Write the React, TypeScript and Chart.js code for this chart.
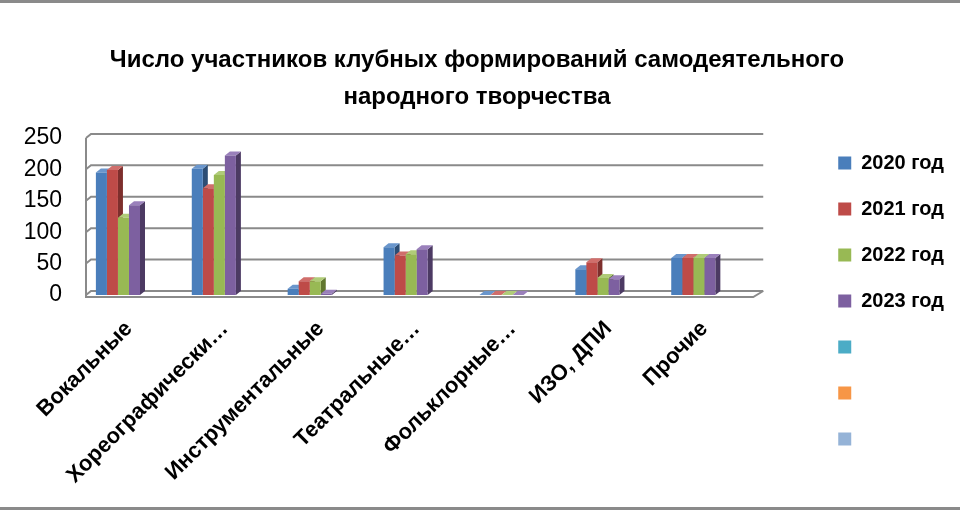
import { useEffect, useRef } from 'react'
import { Chart, registerables } from 'chart.js'

Chart.register(...registerables)

const categories = ['Вокальные', 'Хореографически…', 'Инструментальные', 'Театральные…', 'Фольклорные…', 'ИЗО, ДПИ', 'Прочие']
const years = ['2020 год', '2021 год', '2022 год', '2023 год']
const values2020 = [195, 201, 10, 76, 0, 41, 59]
const values2021 = [199, 170, 22, 63, 0, 52, 59]
const values2022 = [123, 191, 22, 65, 0, 27, 59]
const values2023 = [143, 222, 2, 73, 0, 25, 59]
const yMax = 250
const yStep = 50

const FONT = '"Liberation Sans", Arial, sans-serif'
const front = ['#4a7ebb', '#be4b48', '#98b954', '#7d60a0']
const side = ['#2c4d75', '#7d2f2d', '#61772f', '#4c3a63']
const top = ['#6a96cc', '#d06e6b', '#b0cc78', '#9a80bb']
// extra empty legend entries like the original
const emptyLegend = ['#4bacc6', '#f79646', '#95b3d7']

const DX = 5
const DY = 4
const WALL = 16 // back wall starts a bit right of the first category slot
const OVER = 22 // walls run past the last category slot
const GRID = '#8a8a8a'

// back-wall grid + 3D side/top faces, drawn before the bar fronts
const bar3d = {
  id: 'bar3d',
  beforeDatasetsDraw(chart: Chart) {
    const ctx = chart.ctx
    const { left, right, bottom } = chart.chartArea
    const ys = chart.scales.y
    const wl = left + WALL
    const wr = right + OVER
    ctx.save()
    ctx.strokeStyle = GRID
    ctx.lineWidth = 2
    ys.ticks.forEach((t: any) => {
      const py = ys.getPixelForValue(t.value)
      ctx.beginPath()
      ctx.moveTo(wl, py)
      ctx.lineTo(wl + DX, py - DY)
      ctx.lineTo(wr, py - DY)
      ctx.stroke()
    })
    ctx.beginPath()
    ctx.moveTo(wl, ys.getPixelForValue(yMax))
    ctx.lineTo(wl, bottom + 2)
    ctx.lineTo(wr - 10, bottom + 2)
    ctx.lineTo(wr, bottom - DY)
    ctx.stroke()
    ctx.restore()

    chart.data.datasets.forEach((_, di) => {
      const meta = chart.getDatasetMeta(di)
      meta.data.forEach((el: any) => {
        const { x, y, base, width } = el.getProps(['x', 'y', 'base', 'width'], true)
        const l = x - width / 2
        const r = x + width / 2
        ctx.save()
        ctx.fillStyle = side[di]
        ctx.beginPath()
        ctx.moveTo(r, y)
        ctx.lineTo(r + DX, y - DY)
        ctx.lineTo(r + DX, base - DY)
        ctx.lineTo(r, base)
        ctx.closePath()
        ctx.fill()
        ctx.fillStyle = top[di]
        ctx.beginPath()
        ctx.moveTo(l, y)
        ctx.lineTo(l + DX, y - DY)
        ctx.lineTo(r + DX, y - DY)
        ctx.lineTo(r, y)
        ctx.closePath()
        ctx.fill()
        ctx.restore()
      })
    })
  },
}

export default function App() {
  const ref = useRef<HTMLCanvasElement>(null)

  useEffect(() => {
    if (!ref.current) return
    const series = [values2020, values2021, values2022, values2023]
    const chart = new Chart(ref.current, {
      type: 'bar',
      data: {
        labels: categories,
        datasets: years.map((y, i) => ({
          label: y,
          data: series[i],
          backgroundColor: front[i],
          borderWidth: 0,
          categoryPercentage: 0.46,
          barPercentage: 1,
        })),
      },
      plugins: [bar3d],
      options: {
        responsive: false,
        animation: false,
        layout: { padding: { top: 0, right: 6, bottom: 0, left: 0 } },
        plugins: {
          tooltip: { enabled: false },
          title: {
            display: true,
            text: ['Число участников клубных формирований самодеятельного', 'народного творчества'],
            color: '#000',
            font: { family: FONT, size: 24, weight: 'bold', lineHeight: 1.54 },
            padding: { top: 39, bottom: 22 },
          },
          legend: {
            position: 'right',
            title: { display: true, text: ' ', font: { size: 10 }, padding: { top: 80, bottom: 0 } },
            labels: {
              color: '#000',
              font: { family: FONT, size: 20, weight: 'bold' },
              boxWidth: 13,
              boxHeight: 13,
              padding: 26,
              generateLabels: (c: Chart) => {
                const items = Chart.defaults.plugins.legend.labels.generateLabels(c)
                items.forEach((it: any) => { it.lineWidth = 0 })
                return items.concat(emptyLegend.map((col) => ({
                  text: '',
                  fillStyle: col,
                  strokeStyle: col,
                  lineWidth: 0,
                  hidden: false,
                } as any)))
              },
            },
          },
        },
        scales: {
          x: {
            grid: { display: false, drawTicks: false },
            border: { display: false },
            ticks: {
              color: '#000',
              font: { family: FONT, size: 22, weight: 'bold' },
              minRotation: 45,
              maxRotation: 45,
              padding: 21,
              labelOffset: 11,
            },
            afterFit: (s: any) => { s.height = 212 },
          },
          y: {
            min: 0,
            max: yMax,
            ticks: {
              stepSize: yStep,
              color: '#000',
              font: { family: FONT, size: 23 },
              padding: 8,
            },
            grid: { display: false, drawTicks: false },
            border: { display: false },
            afterFit: (s: any) => { s.width = 70 },
          },
          gap: {
            position: 'right',
            display: true,
            grid: { display: false },
            border: { display: false },
            ticks: { display: false },
            afterFit: (s: any) => { s.width = 71 },
          },
        },
      },
    })
    return () => chart.destroy()
  }, [])

  return (
    <div
      style={{
        position: 'absolute',
        left: 0,
        top: 0,
        width: 960,
        height: 510,
        boxSizing: 'border-box',
        borderTop: '3px solid #8a8a8a',
        borderBottom: '3px solid #8a8a8a',
        background: '#fff',
      }}
    >
      <canvas ref={ref} width={960} height={504} style={{ display: 'block' }} />
    </div>
  )
}
